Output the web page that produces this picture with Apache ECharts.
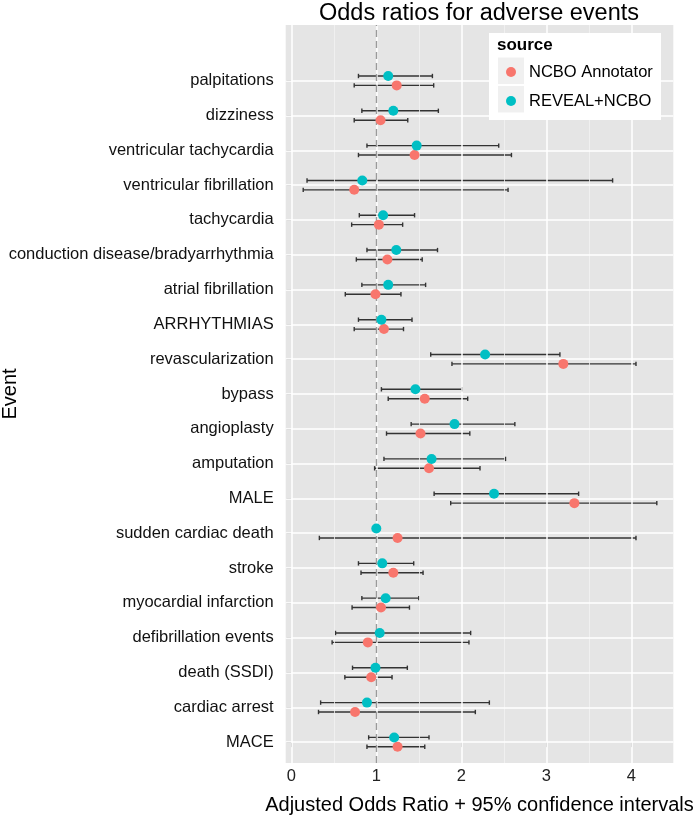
<!DOCTYPE html>
<html>
<head>
<meta charset="utf-8">
<script src="https://cdn.jsdelivr.net/npm/echarts@6/dist/echarts.min.js"></script>
<style>html,body{margin:0;padding:0;background:#fff}#c{width:697px;height:815px}</style>
</head>
<body>
<div id="c"></div>
<script>
// Categories listed top to bottom
const categories = ["palpitations","dizziness","ventricular tachycardia","ventricular fibrillation","tachycardia","conduction disease/bradyarrhythmia","atrial fibrillation","ARRHYTHMIAS","revascularization","bypass","angioplasty","amputation","MALE","sudden cardiac death","stroke","myocardial infarction","defibrillation events","death (SSDI)","cardiac arrest","MACE"];
const ncboOR = [1.24,1.05,1.45,0.74,1.03,1.13,0.99,1.09,3.20,1.57,1.52,1.62,3.33,1.25,1.20,1.055,0.90,0.94,0.75,1.25];
const ncboLo = [0.74,0.74,0.79,0.14,0.71,0.765,0.635,0.74,1.89,1.14,1.12,0.98,1.875,0.33,0.82,0.715,0.48,0.63,0.32,0.89];
const ncboHi = [1.675,1.37,2.59,2.55,1.31,1.54,1.29,1.32,4.055,2.075,2.10,2.22,4.30,4.055,1.55,1.39,2.09,1.185,2.165,1.57];
const revealOR = [1.14,1.20,1.475,0.835,1.08,1.235,1.14,1.06,2.28,1.46,1.92,1.65,2.385,1.00,1.07,1.11,1.04,0.99,0.89,1.21];
const revealLo = [0.79,0.83,0.89,0.185,0.80,0.89,0.83,0.79,1.64,1.06,1.41,1.09,1.68,null,0.79,0.83,0.52,0.72,0.345,0.91];
const revealHi = [1.66,1.73,2.44,3.78,1.45,1.72,1.58,1.42,3.16,2.01,2.63,2.52,3.38,null,1.44,1.50,2.11,1.365,2.33,1.62];
const xTicks = [0,1,2,3,4];
const xMinor = [0.5,1.5,2.5,3.5];
const refLine = 1;
const seriesNames = ["NCBO Annotator","REVEAL+NCBO"];

const n = categories.length;
const dodge = 0.135;
const yPos = i => n - 1 - i;
const yTicks = categories.map((c,i)=>yPos(i));

const ncboPts = ncboOR.map((v,i)=>[v, yPos(i)-dodge]);
const revPts = revealOR.map((v,i)=>[v, yPos(i)+dodge]);
const ncboBars = ncboLo.map((v,i)=>[v, ncboHi[i], yPos(i)-dodge]).filter(d=>d[0]!=null);
const revBars = revealLo.map((v,i)=>[v, revealHi[i], yPos(i)+dodge]).filter(d=>d[0]!=null);

function barRender(params, api){
  const lo = api.coord([api.value(0), api.value(2)]);
  const hi = api.coord([api.value(1), api.value(2)]);
  const cap = 2.2;
  const st = {stroke:'#333333', lineWidth:1.4};
  return {type:'group', children:[
    {type:'line', shape:{x1:lo[0],y1:lo[1],x2:hi[0],y2:hi[1]}, style:st},
    {type:'line', shape:{x1:lo[0],y1:lo[1]-cap,x2:lo[0],y2:lo[1]+cap}, style:st},
    {type:'line', shape:{x1:hi[0],y1:hi[1]-cap,x2:hi[0],y2:hi[1]+cap}, style:st}
  ]};
}

const font = '"Liberation Sans", Arial, Helvetica, sans-serif';
const chart = echarts.init(document.getElementById('c'), null, {renderer:'canvas'});
chart.setOption({
  animation:false,
  textStyle:{fontFamily:font},
  title:{text:'Odds ratios for adverse events', left:319, top:0, padding:[2,0,0,0],
    textStyle:{fontSize:23.5, fontWeight:'normal', color:'#000', fontFamily:font}},
  grid:{left:285.7, right:23.7, top:25, bottom:52, show:true, backgroundColor:'#E5E5E5', borderWidth:0,
    containLabel:false, outerBoundsMode:'none'},
  xAxis:{type:'value', min:-0.066, max:4.494,
    name:'Adjusted Odds Ratio + 95% confidence intervals', nameLocation:'middle', nameGap:32, nameMoveOverlap:false,
    nameTextStyle:{fontSize:20, color:'#000', fontFamily:font},
    axisLine:{show:false}, splitLine:{show:false},
    axisTick:{show:true, customValues:xTicks, length:5, lineStyle:{color:'#7f7f7f', width:1}},
    axisLabel:{customValues:xTicks, fontSize:16.5, color:'#222', margin:5, fontFamily:font}},
  yAxis:{type:'value', min:-0.6, max:20.6,
    name:'Event', nameLocation:'middle', nameGap:265, nameRotate:90, nameMoveOverlap:false,
    nameTextStyle:{fontSize:20, color:'#000', fontFamily:font},
    axisLine:{show:false}, splitLine:{show:false},
    axisTick:{show:true, customValues:yTicks, length:5, lineStyle:{color:'#7f7f7f', width:1}},
    axisLabel:{customValues:yTicks, fontSize:16.5, color:'#111', margin:12, fontFamily:font,
      formatter:v=>categories[n-1-Math.round(v)]}},
  legend:{data:seriesNames, orient:'vertical', left:506, top:62, padding:0, itemGap:9, z:12,
    itemWidth:10, itemHeight:10, icon:'circle',
    textStyle:{fontSize:16.5, color:'#000', padding:[0,0,0,8], lineHeight:20, fontFamily:font}},
  graphic:[
    {type:'rect', left:489, top:33, shape:{width:172, height:87}, style:{fill:'#fff'}, z:10},
    {type:'text', left:497, top:37, style:{text:'source', font:'bold 17px "Liberation Sans", Arial', fill:'#000'}, z:11},
    {type:'rect', left:498, top:57.5, shape:{width:26, height:26.5}, style:{fill:'#F0F0F0'}, z:11},
    {type:'rect', left:498, top:86, shape:{width:26, height:26.5}, style:{fill:'#F0F0F0'}, z:11}
  ],
  series:[
    {type:'line', name:'_grid', data:[], silent:true, z:1, legendHoverLink:false,
      markLine:{silent:true, symbol:'none', label:{show:false}, animation:false,
        data:[
          ...xMinor.map(v=>({xAxis:v, lineStyle:{color:'#F2F2F2', width:0.8, type:'solid'}})),
          ...xTicks.map(v=>({xAxis:v, lineStyle:{color:'#FFFFFF', width:1.5, type:'solid'}})),
          ...yTicks.map(v=>({yAxis:v, lineStyle:{color:'#FFFFFF', width:1.5, type:'solid'}}))
        ]}},
    {type:'line', name:'_ref', data:[], silent:true, z:2,
      markLine:{silent:true, symbol:'none', label:{show:false}, animation:false,
        data:[{xAxis:refLine, lineStyle:{color:'#9a9a9a', width:1.4, type:[7,4]}}]}},
    {type:'custom', name:'_ncboBars', data:ncboBars, renderItem:barRender, z:3, silent:true,
      encode:{x:[0,1], y:2}},
    {type:'custom', name:'_revBars', data:revBars, renderItem:barRender, z:3, silent:true,
      encode:{x:[0,1], y:2}},
    {type:'scatter', name:seriesNames[0], data:ncboPts, symbolSize:10, z:5,
      itemStyle:{color:'#F8766D', opacity:1}},
    {type:'scatter', name:seriesNames[1], data:revPts, symbolSize:10, z:5,
      itemStyle:{color:'#00BFC4', opacity:1}}
  ]
});
</script>
</body>
</html>
